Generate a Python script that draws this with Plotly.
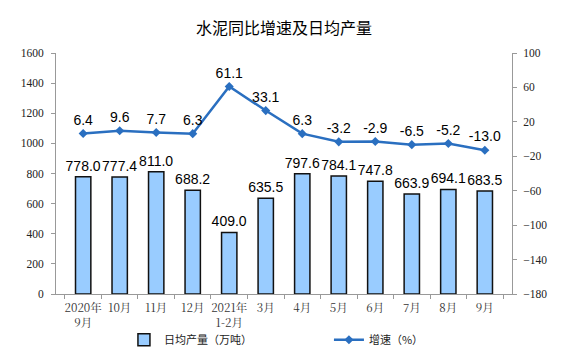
import plotly.graph_objects as go

categories = ["2020年<br>9月", "10月", "11月", "12月", "2021年<br>1-2月", "3月",
              "4月", "5月", "6月", "7月", "8月", "9月"]
output = [778.0, 777.4, 811.0, 688.2, 409.0, 635.5, 797.6, 784.1, 747.8, 663.9, 694.1, 683.5]
growth = [6.4, 9.6, 7.7, 6.3, 61.1, 33.1, 6.3, -3.2, -2.9, -6.5, -5.2, -13.0]
left_ticks = [0, 200, 400, 600, 800, 1000, 1200, 1400, 1600]
right_ticks = [100, 60, 20, -20, -60, -100, -140, -180]

fig = go.Figure()
fig.add_trace(go.Bar(
    x=categories, y=output, name="日均产量（万吨）",
    marker=dict(color="#99CCFF", line=dict(color="#111111", width=1.5)),
    text=[f"{v:.1f}" for v in output], textposition="outside", constraintext="none",
    textfont=dict(family="Liberation Sans, Arial", size=14, color="#000000"),
    cliponaxis=False, width=0.42,
))
fig.add_trace(go.Scatter(
    x=categories, y=growth, name="增速（%）", yaxis="y2",
    mode="lines+markers+text",
    line=dict(color="#2A6FC0", width=2.5),
    marker=dict(symbol="diamond", size=7, color="#2A6FC0"),
    text=[f"{v:.1f}" for v in growth], textposition="top center",
    textfont=dict(family="Liberation Sans, Arial", size=14, color="#000000"),
    cliponaxis=False,
))

fig.update_layout(
    width=559, height=340,
    margin=dict(l=48, r=55, t=45, b=54, autoexpand=False),
    paper_bgcolor="white", plot_bgcolor="white",
    title=dict(text="水泥同比增速及日均产量", x=0.5, xanchor="center", y=0.941, yanchor="middle",
               xref="paper",
               font=dict(family="Noto Sans CJK SC", size=16, color="#000000")),
    showlegend=True,
    legend=dict(orientation="h", x=0.149, xanchor="left", y=-0.19, yanchor="middle",
                bgcolor="rgba(0,0,0,0)",
                font=dict(family="Noto Sans CJK SC", size=11, color="#222222"),
                entrywidth=160, entrywidthmode="pixels", traceorder="normal"),
    xaxis=dict(
        type="category", showline=True, linecolor="#999999", linewidth=1,
        ticks="outside", ticklen=4, tickcolor="#999999", tickson="boundaries",
        tickangle=0, automargin=False, ticklabelstandoff=3,
        tickfont=dict(family="Noto Serif CJK SC, Noto Sans CJK SC", size=11.5, color="#333333"),
        showgrid=False,
    ),
    yaxis=dict(
        range=[0, 1600], tickvals=left_ticks, showline=True, linecolor="#999999", linewidth=1,
        ticks="outside", ticklen=4, tickcolor="#999999", showgrid=False, zeroline=False,
        automargin=False, ticklabelstandoff=5,
        tickfont=dict(family="Liberation Serif, Times New Roman", size=11.5, color="#222222"),
    ),
    yaxis2=dict(
        range=[-180, 100], tickvals=right_ticks, overlaying="y", side="right",
        showline=True, linecolor="#999999", linewidth=1, automargin=False,
        ticks="outside", ticklen=4, tickcolor="#999999", showgrid=False, zeroline=False,
        ticklabelstandoff=4,
        tickfont=dict(family="Liberation Serif, Times New Roman", size=11.5, color="#222222"),
    ),
)

fig.write_html("out.html")
